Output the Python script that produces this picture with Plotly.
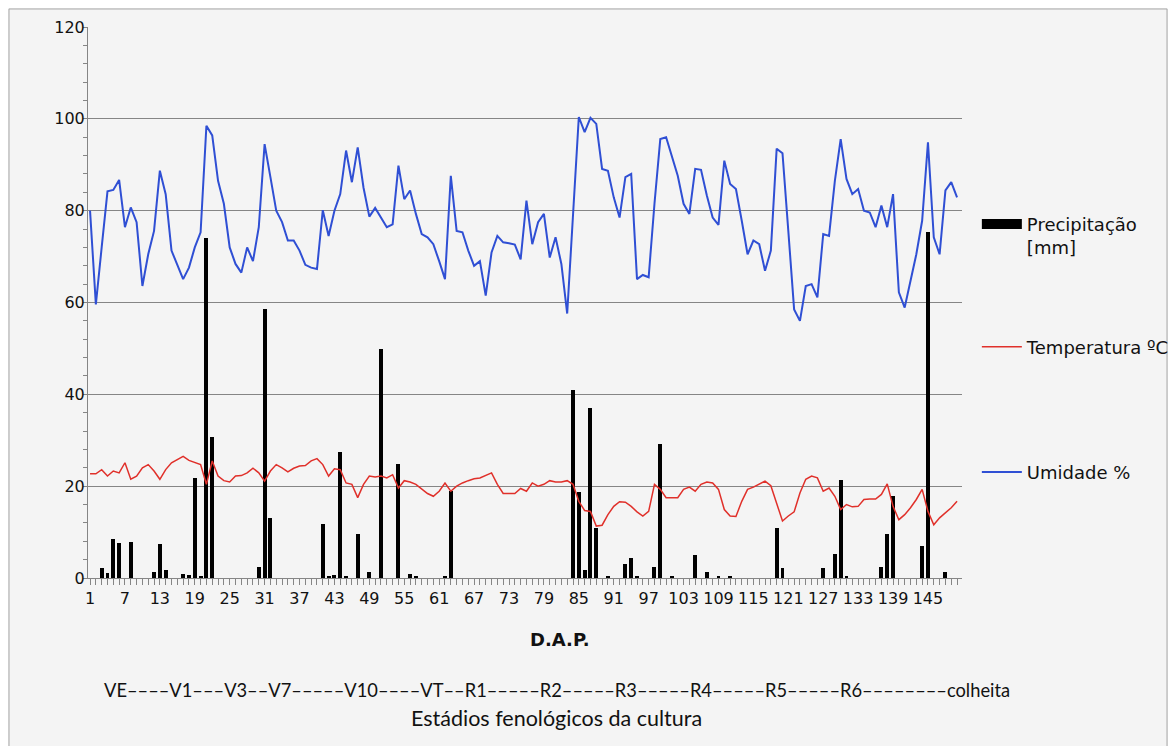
import plotly.graph_objects as go

# ---------------- data ----------------
days = list(range(1, 151))

umidade = [
    80, 59.6, 72, 84.2, 84.5, 86.7, 76.4, 80.7, 77.5, 63.6,
    70.5, 75.6, 88.7, 83.6, 71.3, 68.4, 65.1, 67.6, 72, 75.3,
    98.5, 96.4, 86.5, 81.5, 72, 68.4, 66.5, 72, 69, 76.4,
    94.5, 87.3, 80, 77.5, 73.5, 73.5, 71.3, 68.2, 67.6, 67.3,
    80.1, 74.5, 80, 83.6, 93.1, 86.2, 93.8, 85, 78.7, 80.6,
    78.5, 76.4, 77, 89.8, 82.5, 84.4, 79.3, 74.9, 74.2, 72.7,
    69, 65.1, 87.6, 75.6, 75.3, 71.3, 68, 69, 61.5, 70.9,
    74.5, 73.1, 72.9, 72.6, 69.4, 82.2, 72.7, 77.5, 79.3, 69.8,
    74.2, 68.4, 57.6, 79.3, 100.4, 97.1, 100.2, 98.9, 89.1, 88.7,
    82.9, 78.5, 87.3, 88, 65.1, 66, 65.5, 81.5, 95.6, 96,
    92, 87.6, 81.5, 79.3, 89.1, 88.9, 83.3, 78.5, 76.9, 90.9,
    85.8, 84.7, 77.8, 70.5, 73.5, 72.7, 66.9, 71.3, 93.5, 92.5,
    75.6, 58.5, 56, 63.6, 64, 61.1, 74.9, 74.5, 86.5, 95.6,
    86.9, 83.6, 84.7, 80, 79.6, 76.4, 81.1, 76.4, 83.6, 62.2,
    58.9, 64.7, 70.5, 77.8, 94.9, 74.2, 70.5, 84.4, 86.2, 82.9,
]

temperatura = [
    22.7, 22.7, 23.6, 22.2, 23.3, 22.9, 25.1, 21.5, 22.2, 24,
    24.7, 23.3, 21.5, 23.6, 25.1, 25.8, 26.5, 25.6, 25.1, 24.7,
    20.4, 25.5, 22.2, 21.2, 20.9, 22.2, 22.3, 22.9, 23.9, 22.9,
    21.1, 23.3, 24.7, 24, 23.1, 23.9, 24.4, 24.5, 25.5, 26,
    24.7, 22.2, 23.8, 23.6, 20.7, 20.4, 17.5, 20.4, 22.2, 22,
    22.2, 21.8, 22.5, 19.6, 21.2, 20.9, 20.4, 19.3, 18.4, 17.8,
    18.9, 20.7, 18.9, 20, 20.7, 21.2, 21.6, 21.8, 22.4, 22.9,
    20.4, 18.4, 18.4, 18.4, 19.5, 18.9, 20.7, 20, 20.4, 21.2,
    20.9, 20.9, 21.2, 20.4, 16.7, 14.7, 14.5, 11.3, 11.5, 13.8,
    15.6, 16.6, 16.5, 15.6, 14.4, 13.5, 14.5, 20.4, 19.3, 17.5,
    17.5, 17.5, 19.3, 19.8, 18.9, 20.4, 20.9, 20.7, 19.3, 14.9,
    13.5, 13.4, 16.7, 19.3, 19.8, 20.5, 21.1, 20.1, 16.4, 12.4,
    13.5, 14.4, 18.5, 21.5, 22.2, 21.8, 18.9, 19.6, 17.8, 14.9,
    16, 15.5, 15.6, 17.1, 17.2, 17.2, 18.2, 20.5, 15.6, 12.7,
    13.8, 15.3, 17.1, 19.3, 14.5, 11.6, 13.1, 14.2, 15.3, 16.7,
]

rain_days = [3, 4, 5, 6, 8, 12, 13, 14, 17, 18, 19, 20, 21, 22, 30, 31, 32,
             41, 42, 43, 44, 45, 47, 49, 51, 54, 56, 57, 62, 63,
             84, 85, 86, 87, 88, 90, 93, 94, 95, 98, 99, 101, 105, 107, 109, 111,
             119, 120, 127, 129, 130, 131, 137, 138, 139, 144, 145, 148]
rain_mm = [2.2, 1.1, 8.4, 7.6, 7.9, 1.2, 7.4, 1.8, 0.9, 0.6, 21.8, 0.5, 74, 30.7, 2.5, 58.6, 13.1,
           11.8, 0.4, 0.7, 27.5, 0.4, 9.5, 1.2, 49.8, 24.9, 0.9, 0.4, 0.4, 18.9,
           40.9, 18.8, 1.7, 37.1, 10.9, 0.4, 3.1, 4.4, 0.5, 2.5, 29.2, 0.4, 5.1, 1.3, 0.4, 0.4,
           10.9, 2.2, 2.2, 5.2, 21.3, 0.4, 2.5, 9.6, 17.8, 6.9, 75.3, 1.2]

precipitacao = [0.0] * len(days)
for d, v in zip(rain_days, rain_mm):
    precipitacao[d - 1] = v

estadios = "VE––––V1–––V3––V7–––––V10––––VT––R1–––––R2–––––R3–––––R4–––––R5–––––R6––––––––colheita"

# ---------------- figure ----------------
BG = "#f4f4f4"
GRID = "#858585"
TXT = "#111111"
FONT = "DejaVu Sans"

fig = go.Figure()
fig.add_trace(go.Bar(x=days, y=precipitacao, width=0.68, marker=dict(color="black", line=dict(width=0)),
                     name="Precipitação [mm]", showlegend=False))
fig.add_trace(go.Scatter(x=days, y=temperatura, mode="lines", line=dict(color="#e0302a", width=1.5),
                         name="Temperatura ºC", legend="legend2"))
fig.add_trace(go.Scatter(x=days, y=umidade, mode="lines", line=dict(color="#2f4fd4", width=2),
                         name="Umidade %", legend="legend3"))
# legend key for the precipitation columns (wide black block, as in the original)
fig.add_trace(go.Scatter(x=[None], y=[None], mode="lines", line=dict(color="black", width=10),
                         name="Precipitação<br>[mm]", legend="legend", hoverinfo="skip"))

leg_common = dict(xanchor="left", yanchor="middle", bgcolor="rgba(0,0,0,0)",
                  font=dict(family=FONT, size=18, color=TXT), itemwidth=40, valign="top")

fig.update_layout(
    width=1168, height=738,
    margin=dict(l=80, r=214, t=19, b=168, autoexpand=False),
    paper_bgcolor=BG, plot_bgcolor=BG,
    font=dict(family=FONT, color=TXT, size=16),
    bargap=0,
    legend=dict(x=1.017, y=0.621, **leg_common),
    legend2=dict(x=1.017, y=0.419, **leg_common),
    legend3=dict(x=1.017, y=0.192, **leg_common),
    xaxis=dict(range=[0.65, 150.85], tickmode="linear", tick0=1, dtick=6, tickangle=0,
               ticks="outside", ticklen=6, tickcolor=GRID,
               minor=dict(dtick=1, tick0=1, ticks="outside", ticklen=6, tickcolor=GRID),
               showline=True, linecolor=GRID, linewidth=1,
               showgrid=False, zeroline=False,
               tickfont=dict(family=FONT, size=16, color=TXT)),
    yaxis=dict(range=[0, 120], tickmode="linear", tick0=0, dtick=20,
               ticks="outside", ticklen=4, tickcolor=GRID, ticklabelstandoff=-5,
               minor=dict(dtick=4, ticks="outside", ticklen=4, tickcolor=GRID),
               showline=True, linecolor=GRID, linewidth=1,
               showgrid=True, gridcolor=GRID, gridwidth=1, zeroline=False,
               tickfont=dict(family=FONT, size=16, color=TXT)),
    annotations=[
        dict(text="<b>D.A.P.</b>", x=0.54, y=-0.1125, xref="paper", yref="paper",
             xanchor="center", yanchor="middle", showarrow=False,
             font=dict(family=FONT, size=18, color=TXT)),
        dict(text=estadios, x=0.5366, y=-0.203, xref="paper", yref="paper",
             xanchor="center", yanchor="middle", showarrow=False,
             font=dict(family="Lato", size=18.3, color=TXT)),
        dict(text="Estádios fenológicos da cultura", x=0.5366, y=-0.254, xref="paper", yref="paper",
             xanchor="center", yanchor="middle", showarrow=False,
             font=dict(family="Lato", size=21.5, color=TXT)),
    ],
    shapes=[
        dict(type="rect", xref="paper", yref="paper",
             x0=-0.0904, x1=1.2346, y0=-0.31, y1=1.0327,
             line=dict(color="#a6a6a6", width=1), fillcolor="rgba(0,0,0,0)", layer="below"),
    ],
)

fig.write_html("out.html")
